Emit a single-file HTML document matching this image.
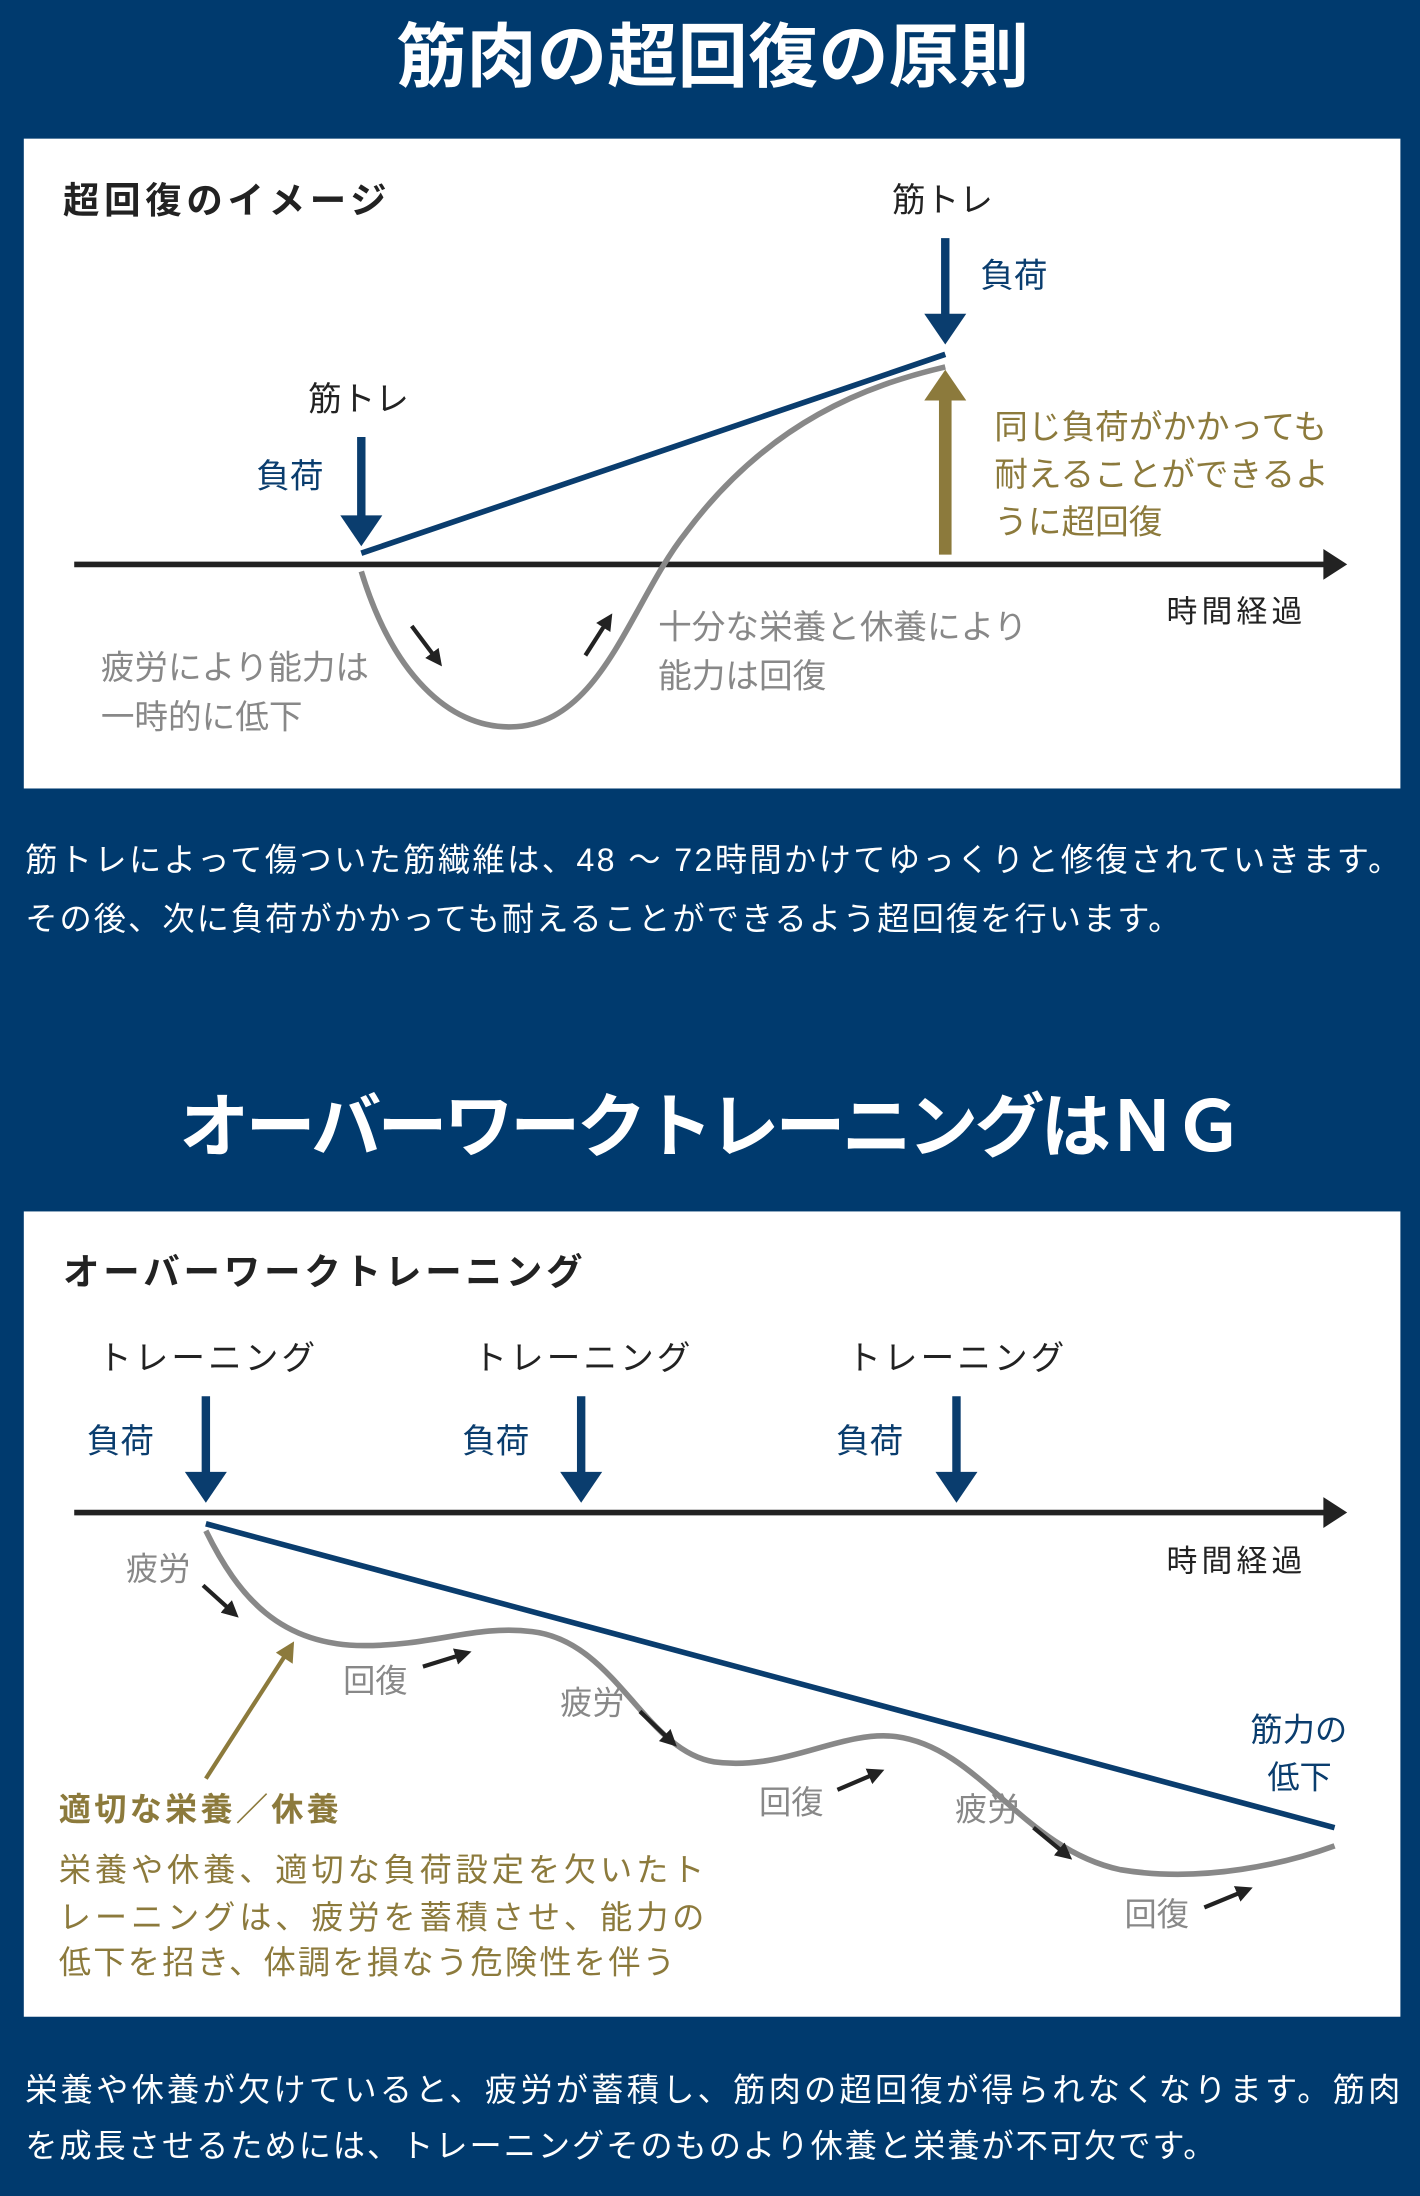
<!DOCTYPE html>
<html><head><meta charset="utf-8"><style>
html,body{margin:0;padding:0;background:#003a6e;}
svg{display:block;}
text{font-family:"Liberation Sans","Noto Sans CJK JP",sans-serif;}
</style></head><body>
<svg width="1420" height="2196" viewBox="0 0 1014 1568" preserveAspectRatio="none" xmlns="http://www.w3.org/2000/svg">
<defs>
<marker id="ab" markerWidth="4" markerHeight="4" refX="2" refY="2" orient="auto" markerUnits="strokeWidth"><path d="M0,0 L4,2 L0,4 z" fill="#222"/></marker>
</defs>
<rect width="1014" height="1568" fill="#003a6e"/>
<text x="283" y="58" textLength="452" lengthAdjust="spacing" font-size="50" font-weight="bold" fill="#fff">筋肉の超回復の原則</text>

<g>
<rect x="17" y="99" width="983" height="464" fill="#fff"/>
<text x="45" y="152" textLength="231" lengthAdjust="spacing" font-size="26" font-weight="bold" fill="#222">超回復のイメージ</text>
<line x1="53" y1="403" x2="948" y2="403" stroke="#222" stroke-width="4"/>
<path d="M945,392 L962,403 L945,414 z" fill="#222"/>
<text x="833" y="444" textLength="97" lengthAdjust="spacing" font-size="22" fill="#222">時間経過</text>
<line x1="258" y1="395" x2="675" y2="253" stroke="#0a3d6e" stroke-width="4"/>
<path d="M258,408 C280,480 320,520 365,519 C430,518 450,430 490,380 C550,300 620,275 675,262" fill="none" stroke="#888" stroke-width="4"/>
<text x="220" y="293" font-size="24" fill="#222">筋トレ</text>
<text x="183" y="348" font-size="24" fill="#0a3d6e">負荷</text>
<line x1="258" y1="312" x2="258" y2="372" stroke="#0a3d6e" stroke-width="6"/>
<path d="M243,368 L273,368 L258,390 z" fill="#0a3d6e"/>
<text x="637" y="151" font-size="24" fill="#222">筋トレ</text>
<text x="700" y="205" font-size="24" fill="#0a3d6e">負荷</text>
<line x1="675" y1="170" x2="675" y2="228" stroke="#0a3d6e" stroke-width="6"/>
<path d="M660,224 L690,224 L675,246 z" fill="#0a3d6e"/>
<line x1="675" y1="396" x2="675" y2="282" stroke="#8c7a3c" stroke-width="9"/>
<path d="M660,286 L690,286 L675,264 z" fill="#8c7a3c"/>
<g font-size="24" fill="#8c7a3c">
<text x="710" y="313">同じ負荷がかかっても</text>
<text x="710" y="347">耐えることができるよ</text>
<text x="710" y="381">うに超回復</text>
</g>
<g font-size="24" fill="#888">
<text x="72" y="485">疲労により能力は</text>
<text x="72" y="520">一時的に低下</text>
<text x="470" y="456">十分な栄養と休養により</text>
<text x="470" y="491">能力は回復</text>
</g>
<line x1="294" y1="447" x2="312" y2="471" stroke="#222" stroke-width="3" marker-end="url(#ab)"/>
<line x1="418" y1="468" x2="434" y2="443" stroke="#222" stroke-width="3" marker-end="url(#ab)"/>
</g>

<g font-size="23" fill="#fff">
<text x="18" y="622" textLength="982" lengthAdjust="spacing">筋トレによって傷ついた筋繊維は、48 〜 72時間かけてゆっくりと修復されていきます。</text>
<text x="18" y="664" textLength="825" lengthAdjust="spacing">その後、次に負荷がかかっても耐えることができるよう超回復を行います。</text>
</g>

<text x="128" y="822" textLength="760" lengthAdjust="spacing" font-size="50" font-weight="bold" fill="#fff">オーバーワークトレーニングはＮＧ</text>

<g>
<rect x="17" y="865" width="983" height="575" fill="#fff"/>
<text x="45" y="917" textLength="371" lengthAdjust="spacing" font-size="26" font-weight="bold" fill="#222">オーバーワークトレーニング</text>
<g font-size="24">
<text x="70" y="978" textLength="155" lengthAdjust="spacing" fill="#222">トレーニング</text><text x="62" y="1037" fill="#0a3d6e">負荷</text>
<text x="338" y="978" textLength="155" lengthAdjust="spacing" fill="#222">トレーニング</text><text x="330" y="1037" fill="#0a3d6e">負荷</text>
<text x="605" y="978" textLength="155" lengthAdjust="spacing" fill="#222">トレーニング</text><text x="597" y="1037" fill="#0a3d6e">負荷</text>
</g>
<g fill="#0a3d6e" stroke="#0a3d6e">
<line x1="147" y1="997" x2="147" y2="1055" stroke-width="6"/><path d="M132,1051 L162,1051 L147,1073 z" stroke="none"/>
<line x1="415" y1="997" x2="415" y2="1055" stroke-width="6"/><path d="M400,1051 L430,1051 L415,1073 z" stroke="none"/>
<line x1="683" y1="997" x2="683" y2="1055" stroke-width="6"/><path d="M668,1051 L698,1051 L683,1073 z" stroke="none"/>
</g>
<line x1="53" y1="1080" x2="948" y2="1080" stroke="#222" stroke-width="4"/>
<path d="M945,1069 L962,1080 L945,1091 z" fill="#222"/>
<text x="833" y="1122" textLength="97" lengthAdjust="spacing" font-size="22" fill="#222">時間経過</text>
<line x1="147" y1="1088" x2="953" y2="1305" stroke="#0a3d6e" stroke-width="4"/>
<path d="M147,1093 C170,1140 200,1175 260,1175 C310,1175 340,1160 380,1165 C440,1172 460,1250 510,1258 C560,1265 600,1235 640,1240 C700,1248 730,1320 800,1335 C860,1345 920,1330 953,1318" fill="none" stroke="#888" stroke-width="4"/>
<g font-size="23" fill="#888">
<text x="90" y="1128">疲労</text><text x="245" y="1208">回復</text>
<text x="400" y="1224">疲労</text><text x="542" y="1295">回復</text>
<text x="682" y="1300">疲労</text><text x="803" y="1375">回復</text>
</g>
<g stroke="#222" stroke-width="3">
<line x1="145" y1="1132" x2="166" y2="1151" marker-end="url(#ab)"/>
<line x1="302" y1="1190" x2="331" y2="1181" marker-end="url(#ab)"/>
<line x1="457" y1="1222" x2="479" y2="1243" marker-end="url(#ab)"/>
<line x1="598" y1="1278" x2="626" y2="1266" marker-end="url(#ab)"/>
<line x1="738" y1="1305" x2="761" y2="1324" marker-end="url(#ab)"/>
<line x1="860" y1="1362" x2="889" y2="1350" marker-end="url(#ab)"/>
</g>
<text x="893" y="1243" font-size="23" fill="#0a3d6e">筋力の</text>
<text x="905" y="1277" font-size="23" fill="#0a3d6e">低下</text>
<line x1="147" y1="1270" x2="203" y2="1183" stroke="#8c7a3c" stroke-width="3"/>
<path d="M197,1180 L210,1172 L209,1188 z" fill="#8c7a3c"/>
<text x="42" y="1300" textLength="200" lengthAdjust="spacing" font-size="23" font-weight="bold" fill="#8c7a3c">適切な栄養／休養</text>
<g font-size="23" fill="#8c7a3c">
<text x="42" y="1343" textLength="461" lengthAdjust="spacing">栄養や休養、適切な負荷設定を欠いたト</text>
<text x="42" y="1377" textLength="461" lengthAdjust="spacing">レーニングは、疲労を蓄積させ、能力の</text>
<text x="42" y="1409" textLength="440" lengthAdjust="spacing">低下を招き、体調を損なう危険性を伴う</text>
</g>
</g>

<g font-size="23" fill="#fff">
<text x="18" y="1500" textLength="982" lengthAdjust="spacing">栄養や休養が欠けていると、疲労が蓄積し、筋肉の超回復が得られなくなります。筋肉</text>
<text x="18" y="1540" textLength="850" lengthAdjust="spacing">を成長させるためには、トレーニングそのものより休養と栄養が不可欠です。</text>
</g>
</svg>
</body></html>
